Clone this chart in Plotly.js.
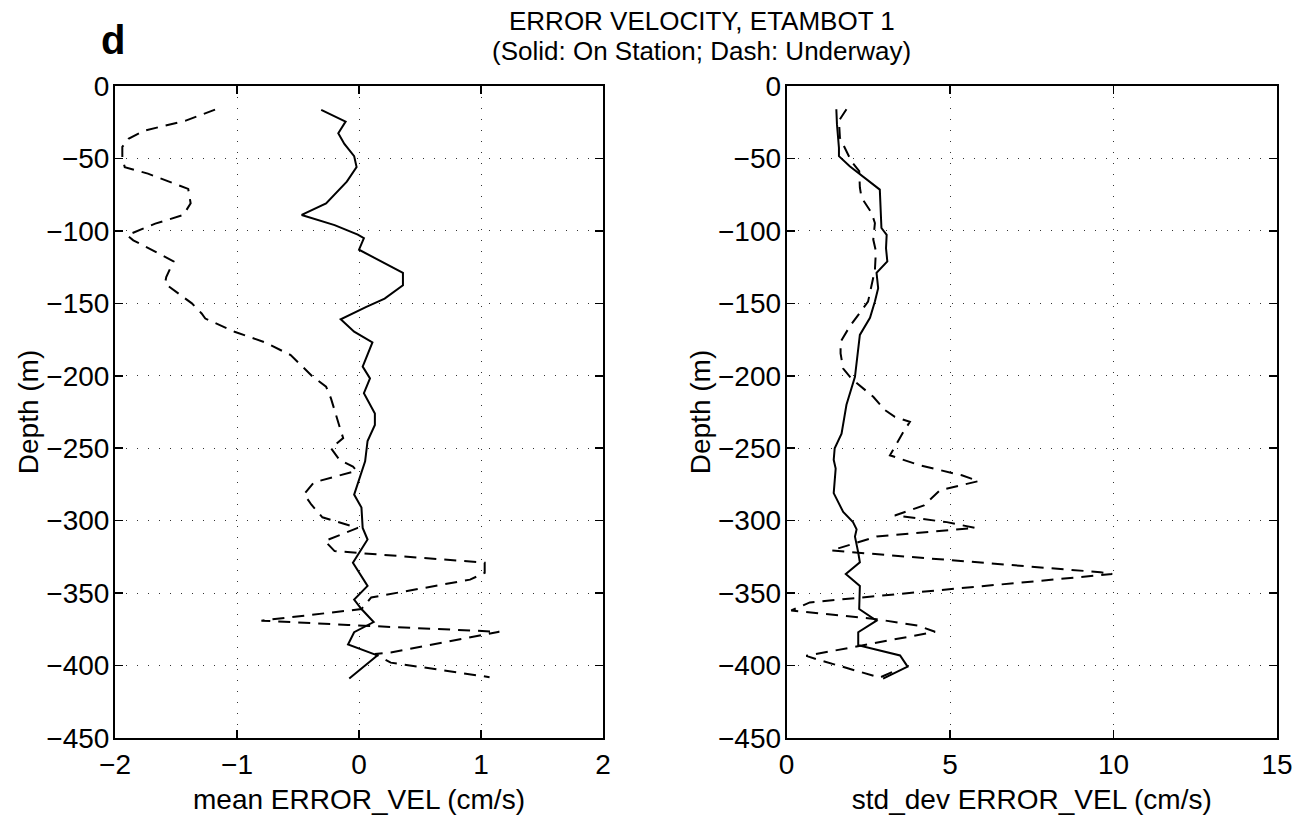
<!DOCTYPE html>
<html>
<head>
<meta charset="utf-8">
<script src="https://cdn.plot.ly/plotly-3.0.1.min.js"></script>
<style>html,body{margin:0;padding:0;background:#fff;}#chart{width:1311px;height:815px;}</style>
</head>
<body>
<div id="chart"></div>
<script>
// Mean error velocity, on station (solid)
const meanStationDepth = [-16.5,-24.6,-32.6,-40,-48.4,-56,-66,-74,-81,-89,-96,-102.6,-105,-113,-121,-129,-137.5,-146.7,-152.4,-161,-169.6,-177,-193.7,-201.8,-212,-226,-234,-245,-259,-282,-291,-305,-313,-329,-345,-354.5,-361,-370,-377,-385.5,-393,-409];
const meanStation = [-0.31,-0.11,-0.17,-0.12,-0.04,-0.02,-0.10,-0.19,-0.27,-0.47,-0.20,-0.01,0.04,0.00,0.18,0.36,0.36,0.21,0.06,-0.15,-0.04,0.11,0.03,0.09,0.04,0.13,0.13,0.07,0.05,-0.04,0.02,0.03,0.07,-0.05,0.07,-0.04,0.02,0.12,-0.04,-0.09,0.15,-0.08];

// Mean error velocity, underway (dash)
const meanUnderwayDepth = [-16.3,-23.9,-30.8,-36.5,-42,-50,-56,-57.5,-60.5,-71,-81,-89,-95,-103,-106.5,-121,-131.8,-136.4,-144.4,-150,-157,-160.5,-169.6,-177,-185.7,-200.6,-207.5,-215.6,-235,-243,-250,-258,-262.6,-265.6,-273.6,-281.7,-289,-297.7,-305,-314,-321,-327.6,-329,-336,-340.7,-353,-361,-369,-372,-376.7,-391,-392,-398,-408];
const meanUnderway = [-1.18,-1.42,-1.76,-1.89,-1.94,-1.94,-1.92,-1.85,-1.73,-1.40,-1.38,-1.44,-1.67,-1.90,-1.85,-1.52,-1.58,-1.59,-1.46,-1.37,-1.29,-1.26,-1.02,-0.77,-0.56,-0.38,-0.27,-0.23,-0.16,-0.13,-0.23,-0.16,-0.05,-0.02,-0.37,-0.45,-0.39,-0.30,-0.01,-0.28,-0.20,0.87,1.03,1.03,0.91,0.10,0.02,-0.80,-0.09,1.15,0.26,0.13,0.26,1.07];

// Std dev of error velocity, on station (solid)
const stdStationDepth = [-16,-26.5,-42.7,-48.4,-55.4,-61,-71.5,-98,-102.7,-112,-121,-129,-139.6,-148.8,-160,-171.8,-183,-200.7,-220,-240,-250,-258,-264,-281,-294,-301,-306,-311,-322,-328.7,-336.8,-345,-361,-369,-377,-386,-393,-400.7,-409];
const stdStation = [1.52,1.54,1.60,1.60,1.93,2.24,2.85,2.90,3.06,3.04,3.08,2.75,2.80,2.70,2.55,2.24,2.19,2.09,1.83,1.68,1.47,1.44,1.50,1.44,1.73,2.03,2.14,2.09,2.19,2.24,1.81,2.24,2.22,2.75,2.19,2.19,3.47,3.70,2.95];

// Std dev of error velocity, underway (dash)
const stdUnderwayDepth = [-16,-24,-35.8,-52,-58.8,-70,-77,-87.7,-94.6,-106,-114,-127,-148.8,-166,-176.5,-184.6,-195,-201.9,-214.5,-223.7,-228.4,-231.8,-238.8,-254.9,-261.8,-268.7,-272.7,-279,-289.5,-296.4,-301,-305,-311,-320.6,-335.6,-336.8,-356.4,-362,-368,-372.5,-376.7,-393.3,-395.6,-408.3,-403.7];
const stdUnderway = [1.83,1.60,1.63,1.98,2.22,2.24,2.29,2.60,2.70,2.65,2.73,2.70,2.49,1.93,1.65,1.65,1.73,1.98,2.65,3.01,3.31,3.77,3.57,3.16,4.08,5.36,5.87,4.69,4.20,3.31,4.90,5.77,2.75,1.37,9.60,9.96,0.71,0.14,2.75,4.03,4.54,0.60,0.91,2.85,3.31];

const meanTicks = [-2,-1,0,1,2];
const stdTicks = [0,5,10,15];
const depthTicks = [0,-50,-100,-150,-200,-250,-300,-350,-400,-450];

const titleLine1 = 'ERROR VELOCITY, ETAMBOT 1';
const titleLine2 = '(Solid: On Station; Dash: Underway)';
const panelLabel = 'd';

const FONT = 'Liberation Sans, Arial, Helvetica, sans-serif';
const solid = {color:'#000', width:2, dash:'solid'};
const dashed = {color:'#000', width:2, dash:'12px,8px'};

const traces = [
  {x:meanStation, y:meanStationDepth, xaxis:'x', yaxis:'y', mode:'lines', line:solid, name:'On Station', showlegend:false},
  {x:meanUnderway, y:meanUnderwayDepth, xaxis:'x', yaxis:'y', mode:'lines', line:dashed, name:'Underway', showlegend:false},
  {x:stdStation, y:stdStationDepth, xaxis:'x2', yaxis:'y2', mode:'lines', line:solid, name:'On Station', showlegend:false},
  {x:stdUnderway, y:stdUnderwayDepth, xaxis:'x2', yaxis:'y2', mode:'lines', line:dashed, name:'Underway', showlegend:false}
];

function axisCommon(){
  return {
    showline:true, linecolor:'#000', linewidth:2, mirror:'ticks',
    ticks:'inside', ticklen:8, tickwidth:1.5, tickcolor:'#000',
    showgrid:true, gridcolor:'#333', gridwidth:1, griddash:'1px,10px',
    zeroline:false, automargin:false,
    tickfont:{family:FONT, size:28, color:'#000'}
  };
}
const titleFont = {family:FONT, size:28, color:'#000'};

const xa = Object.assign(axisCommon(), {domain:[0,0.42], range:[-2,2], tickvals:meanTicks, ticklabelstandoff:0,
  title:{text:'mean ERROR_VEL (cm/s)', font:titleFont}, anchor:'y'});
const ya = Object.assign(axisCommon(), {range:[-450,0], tickvals:depthTicks, ticklabelstandoff:-2,
  title:{text:'Depth (m)', font:titleFont}, anchor:'x'});
const xa2 = Object.assign(axisCommon(), {domain:[0.578,1], range:[0,15], tickvals:stdTicks, ticklabelstandoff:0,
  title:{text:'std_dev ERROR_VEL (cm/s)', font:titleFont}, anchor:'y2'});
const ya2 = Object.assign(axisCommon(), {range:[-450,0], tickvals:depthTicks, ticklabelstandoff:-2,
  title:{text:'Depth (m)', font:titleFont}, anchor:'x2'});

const layout = {
  width:1311, height:815,
  margin:{l:115, r:34, t:86, b:77, pad:0},
  paper_bgcolor:'#fff', plot_bgcolor:'#fff',
  font:{family:FONT, color:'#000'},
  showlegend:false,
  xaxis:xa, yaxis:ya, xaxis2:xa2, yaxis2:ya2,
  annotations:[
    {text:titleLine1, xref:'paper', yref:'paper', x:0.505, y:1.1, xanchor:'center', yanchor:'middle',
     showarrow:false, font:{family:FONT, size:26, color:'#000'}},
    {text:titleLine2, xref:'paper', yref:'paper', x:0.505, y:1.053, xanchor:'center', yanchor:'middle',
     showarrow:false, font:{family:FONT, size:26, color:'#000'}},
    {text:'<b>' + panelLabel + '</b>', xref:'paper', yref:'paper', x:-0.014, y:1.071, xanchor:'left', yanchor:'middle',
     showarrow:false, font:{family:FONT, size:40, color:'#000'}}
  ]
};

Plotly.newPlot('chart', traces, layout, {displayModeBar:false, staticPlot:true});
</script>
</body>
</html>
